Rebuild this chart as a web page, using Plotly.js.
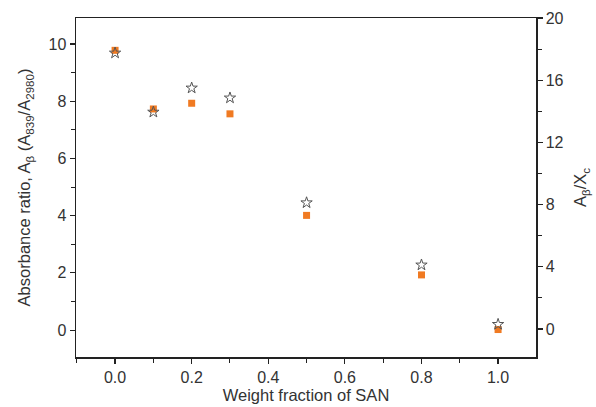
<!DOCTYPE html>
<html>
<head>
<meta charset="utf-8">
<script src="https://cdn.plot.ly/plotly-3.0.1.min.js"></script>
<style>html,body{margin:0;padding:0;background:#fff;}#chart{width:596px;height:407px;}</style>
</head>
<body>
<div id="chart"></div>
<script>
const weightFraction = [0.0, 0.1, 0.2, 0.3, 0.5, 0.8, 1.0];
const absorbanceRatio = [9.78, 7.73, 7.93, 7.56, 4.01, 1.93, 0.02];
const ratioPerCrystallinity = [17.75, 13.95, 15.5, 14.86, 8.12, 4.12, 0.3];

const tickFont = {family: 'Liberation Sans, Arial, sans-serif', size: 16, color: '#333'};
const titleFont = {family: 'Liberation Sans, Arial, sans-serif', size: 16.5, color: '#333'};

const traces = [
  {
    x: weightFraction, y: absorbanceRatio, type: 'scatter', mode: 'markers',
    marker: {symbol: 'square', size: 7, color: '#f07a22', line: {width: 0}},
    yaxis: 'y', showlegend: false
  },
  {
    x: weightFraction, y: ratioPerCrystallinity, type: 'scatter', mode: 'markers',
    marker: {symbol: 'star-open', size: 8.5, color: '#555', line: {width: 1}},
    yaxis: 'y2', showlegend: false
  }
];

const layout = {
  width: 596, height: 407,
  margin: {l: 76, r: 60, t: 18, b: 50},
  paper_bgcolor: '#fff', plot_bgcolor: '#fff',
  font: tickFont,
  xaxis: {
    range: [-0.102, 1.099], tickvals: [0, 0.2, 0.4, 0.6, 0.8, 1.0],
    ticktext: ['0.0', '0.2', '0.4', '0.6', '0.8', '1.0'],
    ticks: 'outside', ticklen: 5, tickwidth: 1.2, tickcolor: '#222',
    minor: {dtick: 0.1, tick0: 0, ticks: 'outside', ticklen: 4, tickwidth: 1, tickcolor: '#222'},
    showline: true, linecolor: '#222', linewidth: 1.5, mirror: true,
    showgrid: false, zeroline: false, tickfont: tickFont,
    title: {text: 'Weight fraction of SAN', font: titleFont, standoff: 2}
  },
  yaxis: {
    range: [-0.94, 10.91], tickvals: [0, 2, 4, 6, 8, 10],
    ticks: 'outside', ticklen: 5, tickwidth: 1.2, tickcolor: '#222',
    minor: {dtick: 1, tick0: 0, ticks: 'outside', ticklen: 4, tickwidth: 1, tickcolor: '#222'},
    showline: true, linecolor: '#222', linewidth: 1.5,
    showgrid: false, zeroline: false, tickfont: tickFont,
    title: {text: 'Absorbance ratio, A<sub>β</sub> (A<sub>839</sub>/A<sub>2980</sub>)', font: titleFont, standoff: 13}
  },
  yaxis2: {
    overlaying: 'y', side: 'right',
    range: [-1.8, 20], tickvals: [0, 4, 8, 12, 16, 20],
    ticks: 'outside', ticklen: 5, tickwidth: 1.2, tickcolor: '#222',
    minor: {dtick: 2, tick0: 0, ticks: 'outside', ticklen: 4, tickwidth: 1, tickcolor: '#222'},
    showline: true, linecolor: '#222', linewidth: 1.5,
    showgrid: false, zeroline: false, tickfont: tickFont,
    title: {text: 'A<sub>β</sub>/X<sub>c</sub>', font: titleFont, standoff: 12}
  }
};

Plotly.newPlot('chart', traces, layout, {displayModeBar: false, staticPlot: true});
</script>
</body>
</html>
